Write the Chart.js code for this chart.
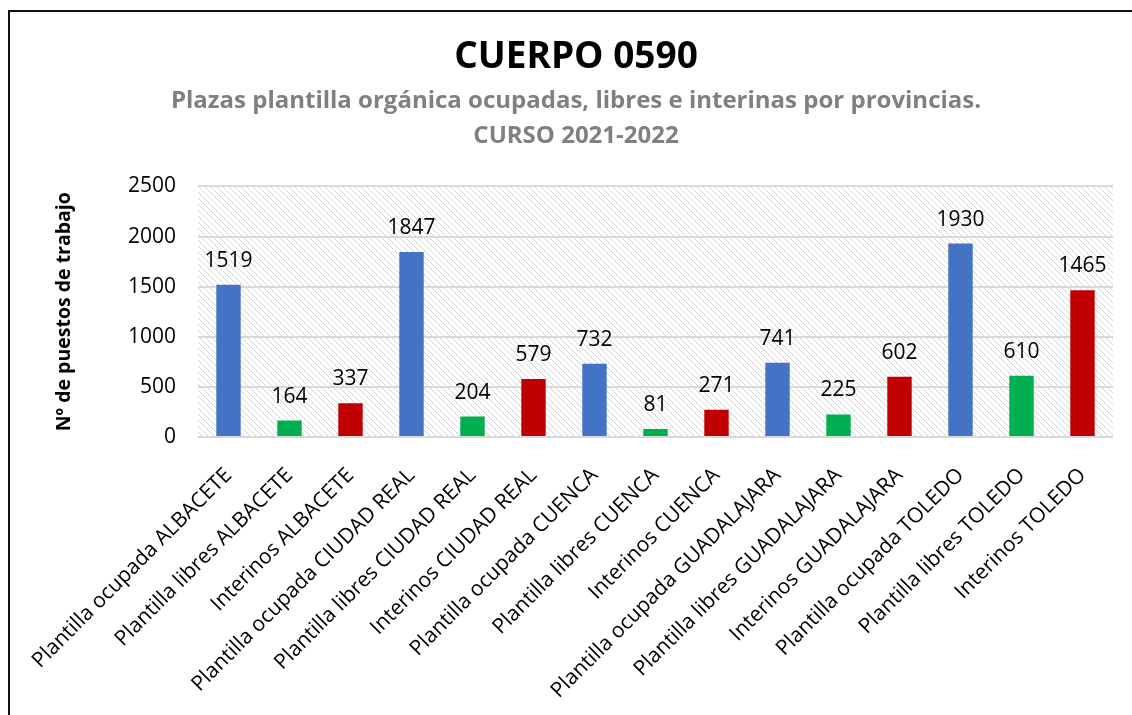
<!DOCTYPE html>
<html>
<head>
<meta charset="utf-8">
<script src="https://cdn.jsdelivr.net/npm/chart.js@4"></script>
<style>
  html, body { margin: 0; padding: 0; background: #fff; }
  #wrap { position: relative; width: 1132px; height: 715px; }
</style>
</head>
<body>
<div id="wrap"><canvas id="plazasChart" width="1132" height="715"></canvas></div>
<script>
const categories = [
  "Plantilla ocupada ALBACETE",
  "Plantilla libres ALBACETE",
  "Interinos ALBACETE",
  "Plantilla ocupada CIUDAD REAL",
  "Plantilla libres CIUDAD REAL",
  "Interinos CIUDAD REAL",
  "Plantilla ocupada CUENCA",
  "Plantilla libres CUENCA",
  "Interinos CUENCA",
  "Plantilla ocupada GUADALAJARA",
  "Plantilla libres GUADALAJARA",
  "Interinos GUADALAJARA",
  "Plantilla ocupada TOLEDO",
  "Plantilla libres TOLEDO",
  "Interinos TOLEDO"
];
const puestos = [1519, 164, 337, 1847, 204, 579, 732, 81, 271, 741, 225, 602, 1930, 610, 1465];
const yTicks = [0, 500, 1000, 1500, 2000, 2500];

// colour by type of plaza: ocupada / libres / interinos
const typeColors = ["#4472C4", "#00B050", "#C00000"];
function barColor(name) {
  if (name.startsWith("Plantilla ocupada")) return typeColors[0];
  if (name.startsWith("Plantilla libres")) return typeColors[1];
  return typeColors[2];
}

const FONT = "'Open Sans', 'DejaVu Sans', sans-serif";

// diagonal hatch for the plot area
function makeHatch(ctx) {
  const tile = document.createElement("canvas");
  tile.width = 6;
  tile.height = 6;
  const t = tile.getContext("2d");
  t.fillStyle = "#ffffff";
  t.fillRect(0, 0, 6, 6);
  t.strokeStyle = "#d4d4d4";
  t.lineWidth = 1;
  t.beginPath();
  t.moveTo(-1, -1); t.lineTo(7, 7);
  t.moveTo(-1, 5); t.lineTo(1, 7);
  t.moveTo(5, -1); t.lineTo(7, 1);
  t.stroke();
  return ctx.createPattern(tile, "repeat");
}

const frameAndHatch = {
  id: "frameAndHatch",
  beforeDraw(chart) {
    const ctx = chart.ctx;
    const a = chart.chartArea;
    ctx.save();
    ctx.strokeStyle = "#111";
    ctx.lineWidth = 2;
    ctx.beginPath();
    ctx.moveTo(9, 715);
    ctx.lineTo(9, 11);
    ctx.lineTo(1132, 11);
    ctx.stroke();
    ctx.fillStyle = makeHatch(ctx);
    ctx.fillRect(a.left, a.top, a.right - a.left, a.bottom - a.top);
    ctx.restore();
  }
};

const valueLabels = {
  id: "valueLabels",
  afterDatasetsDraw(chart) {
    const ctx = chart.ctx;
    const meta = chart.getDatasetMeta(0);
    ctx.save();
    ctx.font = "21px " + FONT;
    ctx.fillStyle = "#000";
    ctx.textAlign = "center";
    ctx.textBaseline = "alphabetic";
    meta.data.forEach((bar, i) => {
      ctx.fillText(String(puestos[i]), bar.x, bar.y - 18);
    });
    ctx.restore();
  }
};

new Chart(document.getElementById("plazasChart"), {
  type: "bar",
  data: {
    labels: categories,
    datasets: [{
      data: puestos,
      backgroundColor: categories.map(barColor),
      barPercentage: 0.4,
      categoryPercentage: 1
    }]
  },
  options: {
    responsive: false,
    animation: false,
    layout: { padding: { left: 39, right: 19, top: 0, bottom: 0 } },
    plugins: {
      legend: { display: false },
      tooltip: { enabled: false },
      title: {
        display: true,
        text: "CUERPO 0590",
        color: "#000",
        font: { family: FONT, size: 37, weight: "bold", lineHeight: 1.2 },
        padding: { top: 35, bottom: 4 }
      },
      subtitle: {
        display: true,
        text: ["Plazas plantilla orgánica ocupadas, libres e interinas por provincias.", "CURSO 2021-2022"],
        color: "#808080",
        font: { family: FONT, size: 24, weight: "bold", lineHeight: 1.46 },
        padding: { top: 0, bottom: 33 }
      }
    },
    scales: {
      x: {
        grid: { display: false },
        border: { display: false },
        ticks: {
          color: "#000",
          font: { family: FONT, size: 21 },
          minRotation: 45,
          maxRotation: 45,
          autoSkip: false,
          padding: 18
        },
        afterFit(scale) { scale.height = 278; }
      },
      y: {
        min: 0,
        max: 2500,
        afterBuildTicks(scale) { scale.ticks = yTicks.map(v => ({ value: v })); },
        grid: { color: "#d9d9d9", lineWidth: 2, drawTicks: false },
        border: { display: false },
        ticks: {
          color: "#000",
          font: { family: FONT, size: 21 },
          padding: 22,
          callback: v => String(v)
        },
        title: {
          display: true,
          text: "Nº de puestos de trabajo",
          color: "#000",
          font: { family: FONT, size: 19.5, weight: "bold", lineHeight: 1.2 },
          padding: { top: 14, bottom: 0 }
        },
        afterFit(scale) { scale.width = 159; }
      }
    }
  },
  plugins: [frameAndHatch, valueLabels]
});
</script>
</body>
</html>
